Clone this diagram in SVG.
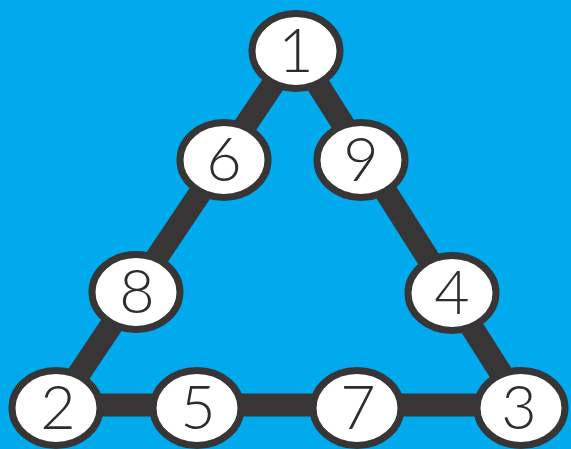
<svg xmlns="http://www.w3.org/2000/svg" width="571" height="449" viewBox="0 0 571 449">
  <style>
    .bg { fill: #00AAEC; }
    .edge { stroke: #373536; stroke-width: 23; stroke-linecap: butt; fill: none; }
    .node ellipse { fill: #FFFFFF; stroke: #373536; stroke-width: 7; }
    .node text { font-family: "Lato", "Open Sans", "Liberation Sans", sans-serif; font-weight: 300; font-size: 61px; fill: #2E2C2D; text-anchor: middle; }
  </style>
  <rect class="bg" x="0" y="0" width="571" height="449"/>

  <!-- triangle sides -->
  <g id="connectors">
    <line class="edge" x1="296" y1="50" x2="56" y2="408"/>
    <line class="edge" x1="296" y1="50" x2="523" y2="408"/>
    <line class="edge" x1="56" y1="405" x2="523" y2="405"/>
  </g>

  <!-- numbered circles -->
  <g id="node-1" class="node">
    <ellipse cx="296" cy="51" rx="44" ry="37.5"/>
    <text x="296" y="72">1</text>
  </g>
  <g id="node-6" class="node">
    <ellipse cx="224" cy="160" rx="44" ry="37.5"/>
    <text x="224" y="181">6</text>
  </g>
  <g id="node-9" class="node">
    <ellipse cx="361" cy="160" rx="44" ry="37.5"/>
    <text x="361" y="181">9</text>
  </g>
  <g id="node-8" class="node">
    <ellipse cx="136" cy="292" rx="44" ry="37.5"/>
    <text x="137" y="313">8</text>
  </g>
  <g id="node-4" class="node">
    <ellipse cx="452" cy="293" rx="44" ry="37.5"/>
    <text x="452" y="314">4</text>
  </g>
  <g id="node-2" class="node">
    <ellipse cx="56" cy="408" rx="44" ry="37.5"/>
    <text x="58" y="429">2</text>
  </g>
  <g id="node-5" class="node">
    <ellipse cx="197" cy="408" rx="44" ry="37.5"/>
    <text x="198" y="429">5</text>
  </g>
  <g id="node-7" class="node">
    <ellipse cx="357" cy="408" rx="44" ry="37.5"/>
    <text x="358" y="429">7</text>
  </g>
  <g id="node-3" class="node">
    <ellipse cx="521" cy="408" rx="44" ry="37.5"/>
    <text x="519" y="429">3</text>
  </g>
</svg>
